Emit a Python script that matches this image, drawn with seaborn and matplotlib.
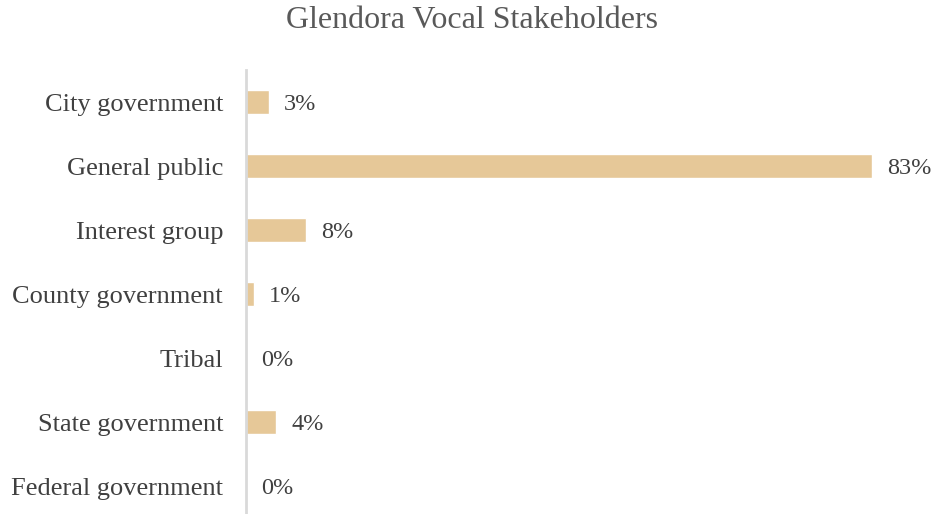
import matplotlib
matplotlib.use("Agg")
import matplotlib.pyplot as plt
import seaborn as sns
import pandas as pd

categories = ["City government", "General public", "Interest group",
              "County government", "Tribal", "State government",
              "Federal government"]
shares = [3, 83, 8, 1, 0, 4, 0]

df = pd.DataFrame({"stakeholder": categories, "share": shares})

sns.set_theme(style="white")
plt.rcParams["font.family"] = ["Liberation Serif", "DejaVu Serif"]

W, H = 934, 514
fig = plt.figure(figsize=(W / 100, H / 100), dpi=100)
left, right = 246, 872
top_px, bot_px = 70, 518
ax = fig.add_axes([left / W, (H - bot_px) / H, (right - left) / W, (bot_px - top_px) / H])

sns.barplot(data=df, x="share", y="stakeholder", orient="h",
            color="#E6C898", saturation=1, width=0.36, ax=ax)

ax.set_xlim(0, 83)
ax.set_ylim(len(categories) - 0.5, -0.5)
ax.set_xlabel("")
ax.set_ylabel("")
ax.set_xticks([])
for s in ["top", "right", "bottom"]:
    ax.spines[s].set_visible(False)
ax.spines["left"].set_color("#D9D9D9")
ax.spines["left"].set_linewidth(2)
ax.tick_params(axis="y", length=0, pad=16.5, labelsize=19, labelcolor="#404040")

for i, v in enumerate(shares):
    ax.annotate(f"{v}%", xy=(v, i), xytext=(11, -1.5), textcoords="offset points",
                ha="left", va="center", fontsize=17.5, color="#404040",
                annotation_clip=False)

fig.text(472 / W, 1 - 21 / H, "Glendora Vocal Stakeholders", ha="center", va="center",
         fontsize=23, color="#595959")

fig.savefig("out.png", dpi=100)
